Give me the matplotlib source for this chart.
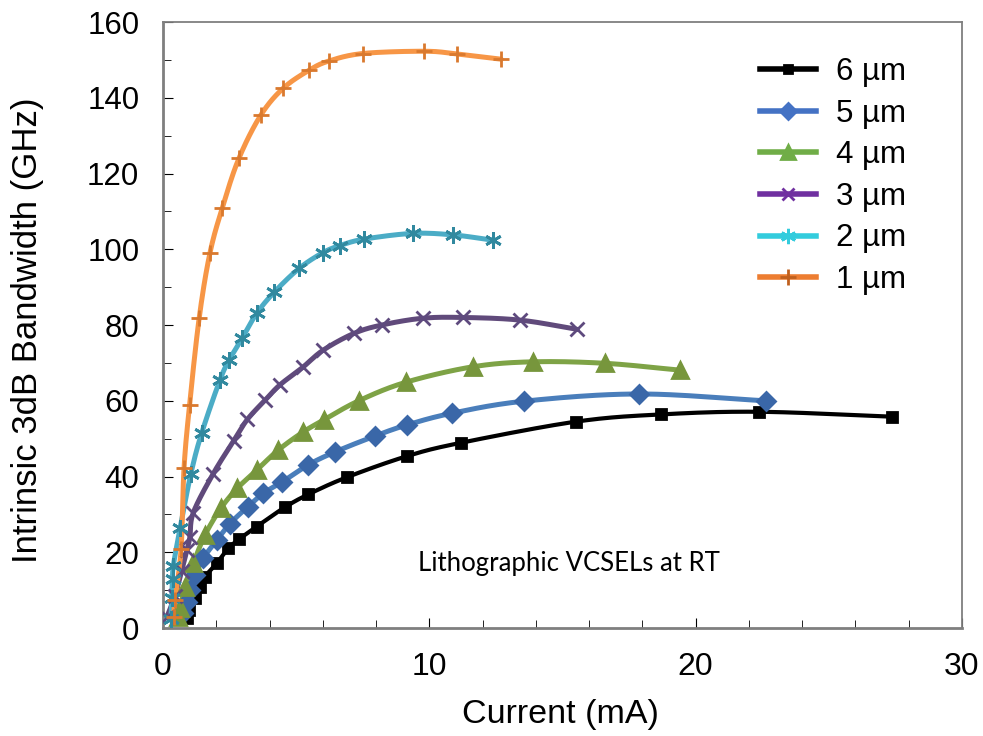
import numpy as np
import matplotlib
matplotlib.use("Agg")
import matplotlib.pyplot as plt
from matplotlib.lines import Line2D

# ---- data ----
labels = ["6 µm", "5 µm", "4 µm", "3 µm", "2 µm", "1 µm"]

x6 = [0.89, 0.99, 1.20, 1.39, 1.58, 2.02, 2.45, 2.85, 3.52, 4.58, 5.46, 6.90, 9.17, 11.18, 15.51, 18.69, 22.39, 27.39]
y6 = [2.6, 4.8, 7.8, 10.9, 13.6, 17.1, 21.0, 23.4, 26.8, 31.9, 35.3, 39.8, 45.4, 48.9, 54.5, 56.4, 57.1, 55.8]

x5 = [0.74, 0.89, 1.01, 1.20, 1.51, 2.02, 2.52, 3.18, 3.77, 4.48, 5.43, 6.46, 7.96, 9.15, 10.84, 13.56, 17.87, 22.63]
y5 = [3.9, 6.9, 10.0, 14.0, 18.4, 23.2, 27.6, 32.0, 35.6, 38.6, 43.0, 46.5, 50.7, 53.6, 56.7, 59.9, 61.8, 60.0]

x4 = [0.57, 0.64, 0.83, 1.14, 1.58, 2.17, 2.79, 3.52, 4.33, 5.27, 6.05, 7.35, 9.12, 11.65, 13.91, 16.6, 19.41]
y4 = [3.0, 5.2, 10.9, 17.1, 24.6, 31.6, 36.9, 41.7, 47.0, 51.8, 55.0, 60.0, 64.9, 69.0, 70.3, 69.9, 68.1]

x3 = [0.15, 0.45, 0.70, 0.90, 1.01, 1.14, 1.89, 2.66, 3.17, 3.84, 4.39, 5.24, 6.02, 7.17, 8.21, 9.75, 11.28, 13.41, 15.53]
y3 = [3.0, 8.5, 15.0, 20.5, 24.0, 30.5, 40.8, 49.5, 55.1, 60.2, 64.2, 68.8, 73.4, 77.8, 80.0, 81.8, 82.0, 81.3, 78.9]

x2 = [0.30, 0.33, 0.36, 0.39, 0.64, 1.05, 1.45, 2.14, 2.49, 2.98, 3.52, 4.18, 5.12, 6.00, 6.65, 7.56, 9.38, 10.90, 12.40]
y2 = [2.5, 8.0, 13.0, 16.5, 26.3, 40.8, 51.4, 65.5, 70.8, 76.6, 83.1, 88.7, 95.0, 99.1, 101.0, 102.7, 104.2, 103.8, 102.4]

x1 = [0.40, 0.45, 0.68, 0.79, 1.00, 1.36, 1.76, 2.23, 2.85, 3.67, 4.51, 5.49, 6.22, 7.50, 9.81, 11.03, 12.70]
y1 = [3.0, 7.3, 20.9, 42.2, 59.0, 81.9, 98.9, 111.0, 124.0, 135.4, 142.5, 147.3, 149.7, 151.7, 152.3, 151.6, 150.2]

xs = [x6, x5, x4, x3, x2, x1]
ys = [y6, y5, y4, y3, y2, y1]

line_colors = ["#000000", "#4A7EBB", "#7EA346", "#604A7B", "#4BACC6", "#F79646"]
mark_colors = ["#000000", "#3A67A8", "#77963C", "#5E4A7E", "#31899F", "#D9792E"]
legend_colors = ["#000000", "#4472C4", "#70AD47", "#7030A0", "#33CCDD", "#ED7D31"]
markers = ["s", "D", "^", "x", (6, 2, 0), "+"]
msizes = [7, 9, 11, 10, 12, 12]
lwidths = [3.0, 3.6, 3.6, 3.6, 3.6, 3.6]


def smooth(x, y, n=20):
    """Catmull-Rom curve through the data points (for drawing only)."""
    p = np.column_stack([x, y]).astype(float)
    p = np.vstack([p[0] - (p[1] - p[0]), p, p[-1] + (p[-1] - p[-2])])
    out = []
    t = np.linspace(0, 1, n, endpoint=False)[:, None]
    for i in range(1, len(p) - 2):
        p0, p1, p2, p3 = p[i - 1], p[i], p[i + 1], p[i + 2]
        seg = 0.5 * ((2 * p1) + (-p0 + p2) * t + (2 * p0 - 5 * p1 + 4 * p2 - p3) * t ** 2
                     + (-p0 + 3 * p1 - 3 * p2 + p3) * t ** 3)
        out.append(seg)
    out.append(p[-2][None, :])
    out = np.vstack(out)
    return out[:, 0], out[:, 1]


plt.rcParams["font.family"] = ["Liberation Sans", "DejaVu Sans"]

fig = plt.figure(figsize=(9.83, 7.36), dpi=100)
ax = fig.add_axes([0.1658, 0.1467, 0.8128, 0.8233])

for i in range(len(xs)):
    sx, sy = smooth(xs[i], ys[i])
    ax.plot(sx, sy, color=line_colors[i], lw=lwidths[i], solid_capstyle="round", zorder=2 + i * 0.01)
    ax.plot(xs[i], ys[i], ls="none", marker=markers[i], ms=msizes[i],
            color=mark_colors[i], mec=mark_colors[i], mew=2.0, zorder=3)

ax.set_xlim(0, 30)
ax.set_ylim(0, 160)
ax.set_xticks([0, 10, 20, 30])
ax.set_xticks(np.arange(0, 31, 2), minor=True)
ax.set_yticks(np.arange(0, 161, 20))
ax.set_yticks(np.arange(0, 161, 10), minor=True)
ax.tick_params(which="both", direction="in", colors="#000000")
ax.tick_params(axis="x", which="major", length=7, pad=17, labelsize=23)
ax.tick_params(axis="y", which="major", length=7, pad=17, labelsize=22.5)
ax.tick_params(which="minor", length=6)
for s in ax.spines.values():
    s.set_color("#7f7f7f")
    s.set_linewidth(1.3)
ax.spines["left"].set_linewidth(2)
ax.spines["bottom"].set_linewidth(2)

ax.set_xlabel("Current (mA)", fontsize=24.5, va="center")
ax.xaxis.set_label_coords(0.498, -0.142)
ax.set_ylabel("Intrinsic 3dB Bandwidth (GHz)", fontsize=25, va="center")
ax.yaxis.set_label_coords(-0.169, 0.492)

ax.text(0.508, 0.107, "Lithographic VCSELs at RT", transform=ax.transAxes,
        fontsize=18.5, family=["Lato", "DejaVu Sans"], ha="center", va="center")

handles = [Line2D([0], [0], color=legend_colors[i], lw=4, marker=markers[i],
                  ms=msizes[i] - 1, mec=legend_colors[i] if i != 5 else "#C0601E", mew=2.0)
           for i in range(len(labels))]
leg = ax.legend(handles, labels, loc="upper left", bbox_to_anchor=(0.747, 0.942),
                frameon=False, fontsize=22.5, handlelength=1.8, labelspacing=0.37,
                handletextpad=0.65, borderpad=0, borderaxespad=0)

fig.savefig("out.png", dpi=100)
